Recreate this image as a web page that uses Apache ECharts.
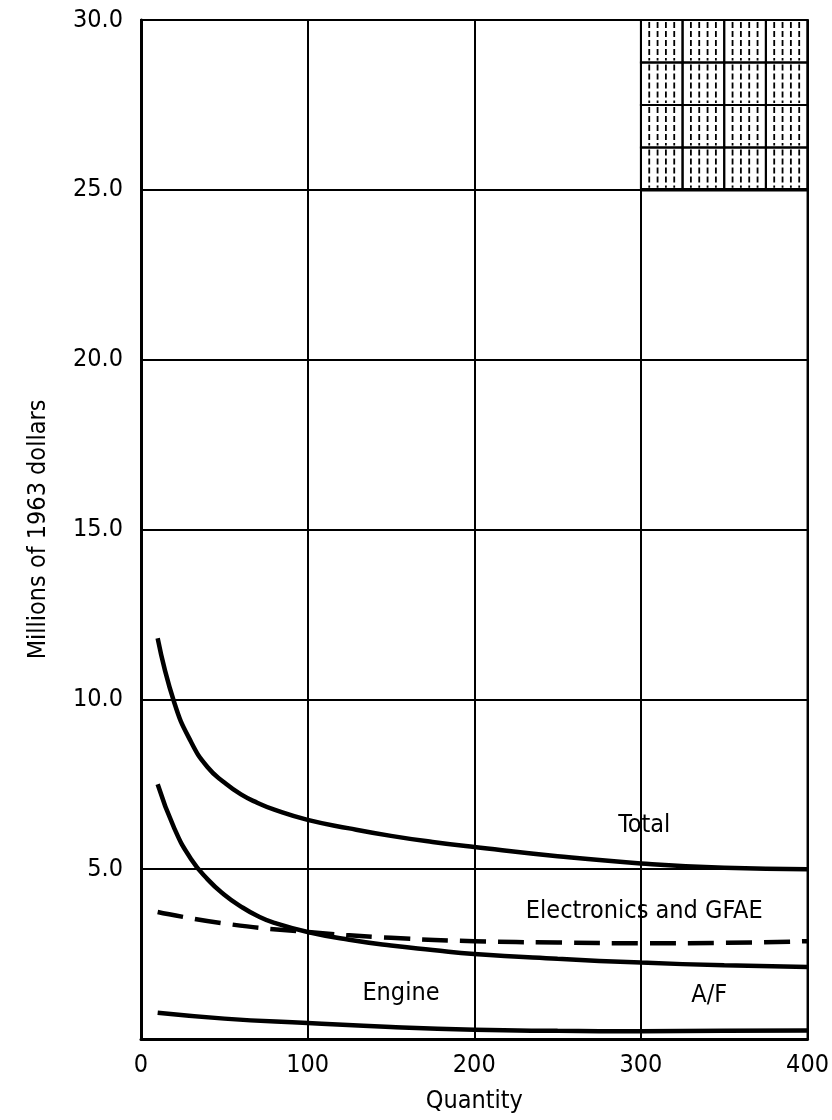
<!DOCTYPE html>
<html>
<head>
<meta charset="utf-8">
<script src="https://cdn.jsdelivr.net/npm/echarts@6/dist/echarts.min.js"></script>
<style>
html,body{margin:0;padding:0;background:#fff;}
#chart{width:832px;height:1120px;}
</style>
</head>
<body>
<div id="chart"></div>
<script>
// quantity points
var qty = [10, 20, 30, 40, 50, 60, 70, 80, 100, 125, 150, 175, 200, 250, 300, 350, 400];
var total = [11.8, 9.9, 8.75, 8.0, 7.55, 7.2, 6.95, 6.75, 6.45, 6.2, 5.98, 5.8, 5.65, 5.38, 5.17, 5.04, 5.0];
var airframe = [7.5, 6.2, 5.3, 4.7, 4.25, 3.9, 3.62, 3.42, 3.15, 2.92, 2.75, 2.62, 2.5, 2.36, 2.25, 2.17, 2.12];
var elecQty = [10, 50, 100, 150, 200, 250, 300, 350, 400];
var electronics = [3.74, 3.4, 3.15, 2.98, 2.88, 2.84, 2.82, 2.83, 2.88];
var engineQty = [10, 50, 100, 150, 200, 250, 300, 350, 400];
var engine = [0.77, 0.6, 0.47, 0.35, 0.27, 0.24, 0.23, 0.24, 0.25];

// curve labels
var labelText = ["Total", "Electronics and GFAE", "Engine", "A/F"];
var labelQty = [302, 302, 156, 341];
var labelVal = [6.3, 3.75, 1.33, 1.28];

// hatched block in the top right corner
var hatchQty = [300, 325, 350, 375];
var hatchVal = [25, 26.25, 27.5, 28.75];

var xTicks = [0, 100, 200, 300, 400];
var yTicks = [0, 5, 10, 15, 20, 25, 30];

function pairs(xs, ys) {
    var out = [];
    for (var i = 0; i < xs.length; i++) {
        out.push([xs[i], ys[i]]);
    }
    return out;
}

var hatchCells = [];
for (var i = 0; i < hatchQty.length; i++) {
    for (var j = 0; j < hatchVal.length; j++) {
        hatchCells.push([hatchQty[i], hatchVal[j]]);
    }
}
var labelData = [];
for (var k = 0; k < labelText.length; k++) {
    labelData.push([labelQty[k], labelVal[k], labelText[k]]);
}

var font = "'DejaVu Sans Condensed', 'DejaVu Sans', sans-serif";
var lineStyle = {color: "#000", width: 4.5};

var chart = echarts.init(document.getElementById("chart"));
chart.setOption({
    backgroundColor: "#fff",
    animation: false,
    grid: {
        left: 141, right: 17, top: 20, bottom: 81,
        show: true, borderColor: "#000", borderWidth: 2
    },
    xAxis: {
        type: "value",
        min: xTicks[0], max: xTicks[xTicks.length - 1], interval: 100,
        name: "Quantity", nameLocation: "middle", nameGap: 50,
        nameTextStyle: {fontFamily: font, fontSize: 25, color: "#000"},
        axisLine: {lineStyle: {color: "#000", width: 3}},
        axisTick: {show: false},
        axisLabel: {fontFamily: font, fontSize: 25, color: "#000", margin: 14},
        splitLine: {show: true, lineStyle: {color: "#000", width: 2}}
    },
    yAxis: {
        type: "value",
        min: yTicks[0], max: yTicks[yTicks.length - 1], interval: 5,
        name: "Millions of 1963 dollars", nameLocation: "middle", nameGap: 90,
        nameTextStyle: {fontFamily: font, fontSize: 25, color: "#000"},
        axisLine: {lineStyle: {color: "#000", width: 3}},
        axisTick: {show: false},
        axisLabel: {
            fontFamily: font, fontSize: 25, color: "#000", margin: 18,
            formatter: function (v) { return v === 0 ? "" : v.toFixed(1); }
        },
        splitLine: {show: true, lineStyle: {color: "#000", width: 2}}
    },
    series: [
        {type: "line", data: pairs(qty, total), smooth: true, showSymbol: false, lineStyle: lineStyle, z: 5},
        {type: "line", data: pairs(qty, airframe), smooth: true, showSymbol: false, lineStyle: lineStyle, z: 5},
        {type: "line", data: pairs(elecQty, electronics), smooth: true, showSymbol: false,
            lineStyle: {color: "#000", width: 4.5, type: [26, 12]}, z: 5},
        {type: "line", data: pairs(engineQty, engine), smooth: true, showSymbol: false, lineStyle: lineStyle, z: 5},
        {
            type: "custom",
            data: hatchCells,
            z: 4,
            renderItem: function (params, api) {
                var x = api.value(0), y = api.value(1);
                var p0 = api.coord([x, y + 1.25]);
                var p1 = api.coord([x + 25, y]);
                var w = p1[0] - p0[0], h = p1[1] - p0[1];
                var kids = [{
                    type: "rect",
                    shape: {x: p0[0], y: p0[1], width: w, height: h},
                    style: {fill: null, stroke: "#000", lineWidth: 2}
                }];
                for (var n = 1; n <= 4; n++) {
                    var lx = p0[0] + w * n / 5;
                    kids.push({
                        type: "line",
                        shape: {x1: lx, y1: p0[1] + 2, x2: lx, y2: p1[1] - 2},
                        style: {stroke: "#000", lineWidth: 1.8, lineDash: [6, 3]}
                    });
                }
                return {type: "group", children: kids};
            }
        },
        {
            // thick bottom edge of the hatched block
            type: "line", data: pairs([300, 400], [25, 25]), showSymbol: false,
            lineStyle: {color: "#000", width: 3.5}, z: 6
        },
        {
            type: "scatter",
            data: labelData,
            symbolSize: 0,
            itemStyle: {opacity: 1},
            label: {
                show: true, position: "inside", color: "#000",
                fontFamily: font, fontSize: 25,
                formatter: function (p) { return p.value[2]; }
            },
            z: 7
        }
    ]
});
</script>
</body>
</html>
